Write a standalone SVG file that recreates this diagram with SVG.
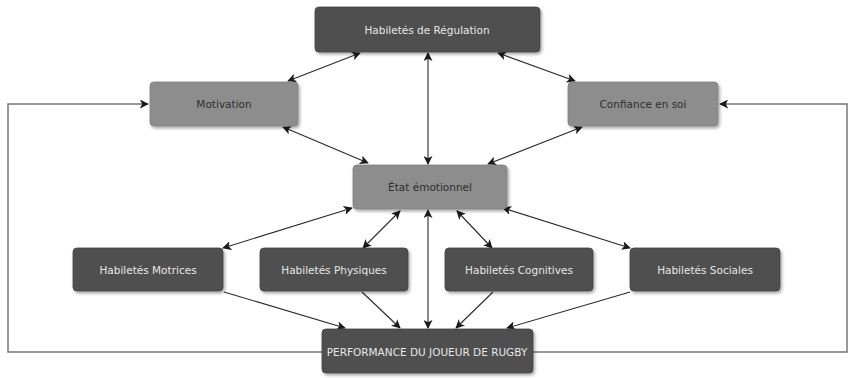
<svg xmlns="http://www.w3.org/2000/svg" width="850" height="378" viewBox="0 0 850 378">
  <style>
    .dark rect { fill: #4f4f4f; stroke: #444; stroke-width: 0.8; }
    .light rect { fill: #8d8d8d; stroke: #808080; stroke-width: 0.8; }
    .dark text { fill: #e6e6e6; }
    .light text { fill: #2e2e2e; }
    text { font-family: "DejaVu Sans", "Liberation Sans", sans-serif; font-size: 10.5px; text-anchor: middle; dominant-baseline: central; }
    .link { stroke: #2a2a2a; stroke-width: 1.1; fill: none; }
    .loop { stroke: #777; stroke-width: 1.5; fill: none; }
  </style>
  <defs>
    <marker id="head" viewBox="0 0 10 10" refX="9" refY="5" markerWidth="9" markerHeight="9" markerUnits="userSpaceOnUse" orient="auto-start-reverse">
      <path d="M0,0 L10,5 L0,10 L2.5,5 Z" fill="#1a1a1a"/>
    </marker>
    <filter id="shadow" x="-10%" y="-20%" width="125%" height="150%">
      <feDropShadow dx="1.5" dy="2" stdDeviation="1.8" flood-color="#000" flood-opacity="0.35"/>
    </filter>
  </defs>
  <rect width="850" height="378" fill="#ffffff"/>

  <!-- connectors -->
  <g id="connectors">
    <!-- feedback loops from performance to motivation / self-confidence -->
    <polyline class="loop" points="322,352 8,352 8,104 148,104" marker-end="url(#head)"/>
    <polyline class="loop" points="533,352 847,352 847,104 720,104" marker-end="url(#head)"/>

    <!-- regulation links -->
    <line class="link" x1="360" y1="53" x2="288" y2="81" marker-start="url(#head)" marker-end="url(#head)"/>
    <line class="link" x1="498" y1="53" x2="575" y2="81" marker-start="url(#head)" marker-end="url(#head)"/>
    <line class="link" x1="428" y1="53" x2="428" y2="164" marker-start="url(#head)" marker-end="url(#head)"/>

    <!-- motivation / confidence to emotional state -->
    <line class="link" x1="283" y1="127" x2="368" y2="163" marker-start="url(#head)" marker-end="url(#head)"/>
    <line class="link" x1="582" y1="127" x2="488" y2="164" marker-start="url(#head)" marker-end="url(#head)"/>

    <!-- emotional state to skills -->
    <line class="link" x1="352" y1="208" x2="223" y2="248" marker-start="url(#head)" marker-end="url(#head)"/>
    <line class="link" x1="400" y1="211" x2="363" y2="248" marker-start="url(#head)" marker-end="url(#head)"/>
    <line class="link" x1="457" y1="211" x2="492" y2="248" marker-start="url(#head)" marker-end="url(#head)"/>
    <line class="link" x1="503" y1="208" x2="630" y2="248" marker-start="url(#head)" marker-end="url(#head)"/>
    <line class="link" x1="428" y1="210" x2="428" y2="328" marker-start="url(#head)" marker-end="url(#head)"/>

    <!-- skills to performance -->
    <line class="link" x1="224" y1="292" x2="345" y2="328" marker-end="url(#head)"/>
    <line class="link" x1="362" y1="292" x2="400" y2="328" marker-end="url(#head)"/>
    <line class="link" x1="493" y1="292" x2="456" y2="328" marker-end="url(#head)"/>
    <line class="link" x1="630" y1="292" x2="507" y2="328" marker-end="url(#head)"/>
  </g>

  <g id="regulation" class="dark">
    <rect x="315" y="7" width="225" height="45" rx="4" filter="url(#shadow)"/>
    <text x="427" y="30">Habiletés de Régulation</text>
  </g>
  <g id="motivation" class="light">
    <rect x="150" y="82" width="148" height="44" rx="4" filter="url(#shadow)"/>
    <text x="224" y="104">Motivation</text>
  </g>
  <g id="confiance" class="light">
    <rect x="568" y="82" width="150" height="44" rx="4" filter="url(#shadow)"/>
    <text x="643" y="104">Confiance en soi</text>
  </g>
  <g id="etat" class="light">
    <rect x="353" y="165" width="154" height="44" rx="4" filter="url(#shadow)"/>
    <text x="430" y="187">État émotionnel</text>
  </g>
  <g id="motrices" class="dark">
    <rect x="73" y="248" width="150" height="43" rx="4" filter="url(#shadow)"/>
    <text x="148" y="270">Habiletés Motrices</text>
  </g>
  <g id="physiques" class="dark">
    <rect x="260" y="248" width="148" height="43" rx="4" filter="url(#shadow)"/>
    <text x="334" y="270">Habiletés Physiques</text>
  </g>
  <g id="cognitives" class="dark">
    <rect x="445" y="248" width="148" height="43" rx="4" filter="url(#shadow)"/>
    <text x="519" y="270">Habiletés Cognitives</text>
  </g>
  <g id="sociales" class="dark">
    <rect x="630" y="248" width="150" height="43" rx="4" filter="url(#shadow)"/>
    <text x="705" y="270">Habiletés Sociales</text>
  </g>
  <g id="performance" class="dark">
    <rect x="322" y="329" width="211" height="44" rx="4" filter="url(#shadow)"/>
    <text x="427" y="352">PERFORMANCE DU JOUEUR DE RUGBY</text>
  </g>
</svg>
